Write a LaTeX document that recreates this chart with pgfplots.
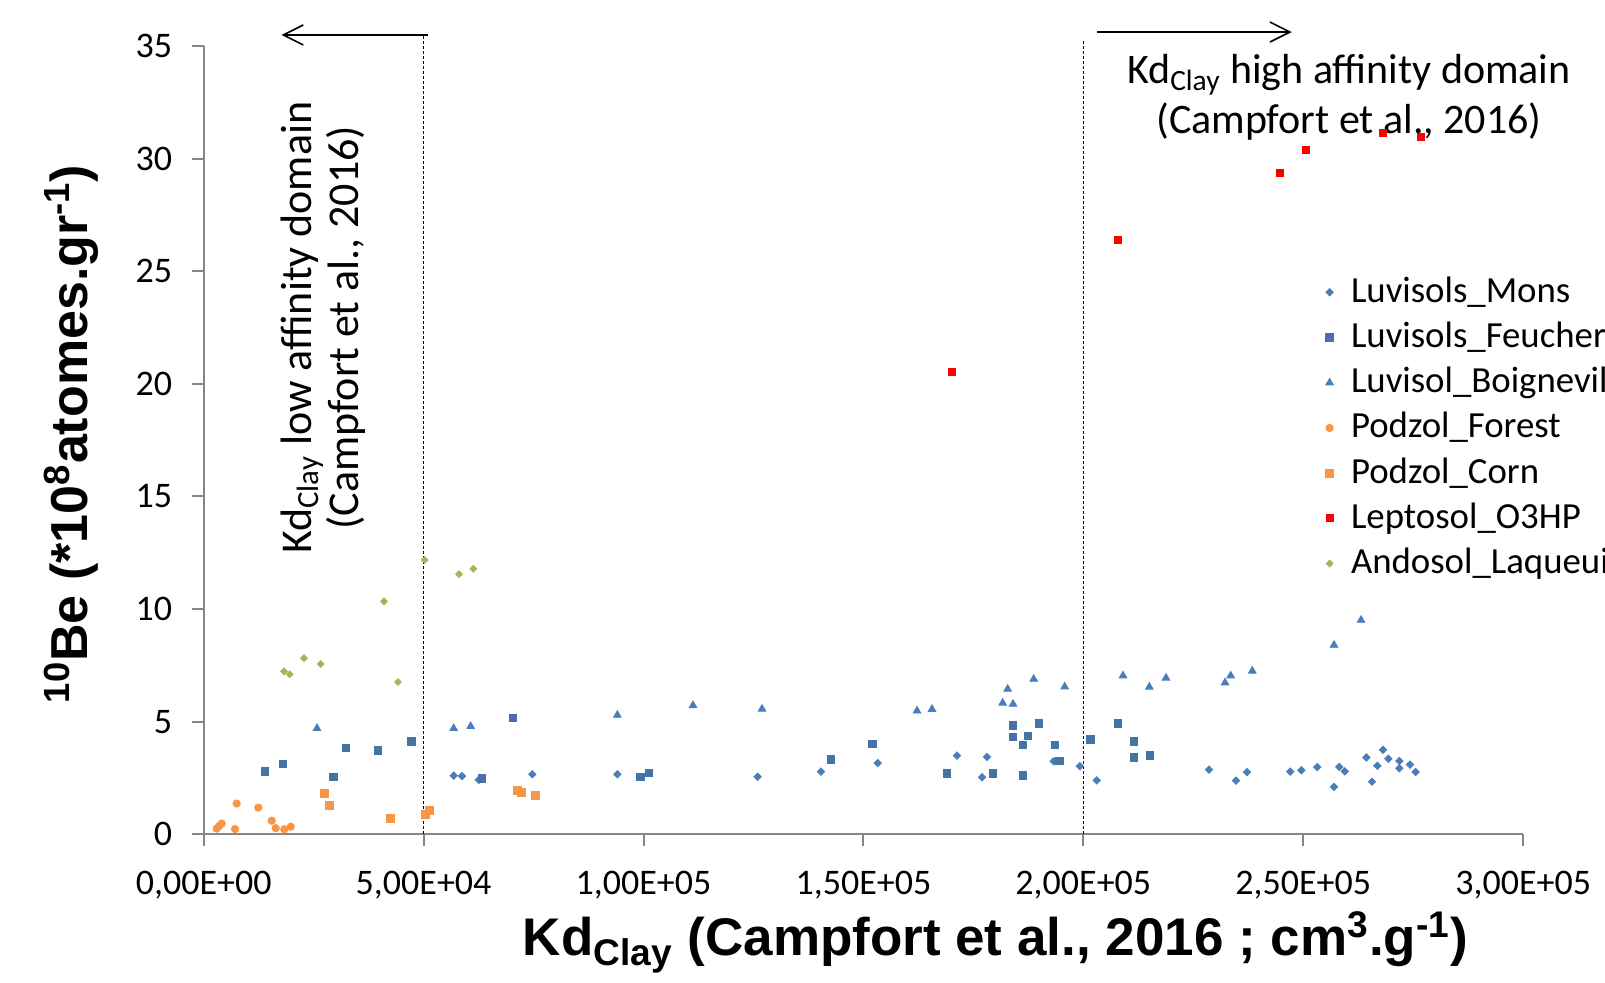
\documentclass[border=0pt]{standalone}
\usepackage{fontspec}
\setmainfont{Carlito}
\newfontfamily\arialfont{Liberation Sans}
\usepackage{pgfplots}
\pgfplotsset{compat=1.18}
\usetikzlibrary{arrows.meta}
\definecolor{monsc}{RGB}{74,126,187}
\definecolor{feuc}{RGB}{69,114,167}
\definecolor{boic}{RGB}{74,126,187}
\definecolor{podc}{RGB}{247,150,70}
\definecolor{lepc}{RGB}{255,0,0}
\definecolor{andc}{RGB}{155,187,89}
\definecolor{axisgray}{RGB}{134,134,134}
\pgfplotsset{
  mk/.style={only marks,
    legend image code/.code={\draw[mark repeat=2,mark phase=2,##1] plot coordinates {(0pt,0pt)(5pt,0pt)(10pt,0pt)};}},
}
\begin{document}
\begin{tikzpicture}
\begin{axis}[
  scale only axis, width=659.7pt, height=394pt,
  xmin=0, xmax=300000, ymin=0, ymax=35,
  axis x line=bottom, axis y line=left,
  axis line style={draw=axisgray, line width=1pt, -},
  xtick={0,50000,100000,150000,200000,250000,300000},
  ytick={0,5,10,15,20,25,30,35},
  scaled x ticks=false,
  xticklabels={{0,00E+00},{5,00E+04},{1,00E+05},{1,50E+05},{2,00E+05},{2,50E+05},{3,00E+05}},
  yticklabels={0,5,10,15,20,25,30,35},
  tick style={draw=axisgray, line width=1pt},
  tick align=outside, major tick length=6pt,
  ticklabel style={font=\fontsize{18}{21}\selectfont, text=black},
  xticklabel style={yshift=-9pt},
  yticklabel style={xshift=-6.2pt},
  xlabel={Kd\textsubscript{Clay} (Campfort et al., 2016 ; cm\textsuperscript{3}.g\textsuperscript{-1})},
  ylabel={\textsuperscript{10}Be (*10\textsuperscript{8}atomes.gr\textsuperscript{-1})},
  xlabel style={font=\arialfont\bfseries\fontsize{26.5}{30}\selectfont, at={(axis description cs:0.6,0)}, anchor=center, yshift=-54pt},
  ylabel style={font=\arialfont\bfseries\fontsize{26}{30}\selectfont, at={(axis description cs:-0.1,0.508)}, anchor=center},
  clip=false,
  legend cell align=left,
  legend style={at={(0.850,0.711)}, anchor=north west, draw=none, fill=none,
    font=\fontsize{18.4}{21}\selectfont, inner sep=0pt, row sep=4.6pt,
    nodes={inner sep=0pt, text height=14pt, text depth=4pt},
    /tikz/every odd column/.append style={column sep=8.7pt}},
]
\addplot[mk, mark=square*, mark size=1.3pt, mark options={rotate=45, draw=monsc, fill=monsc}] coordinates {
(56840,2.60) (58730,2.58) (62530,2.41) (74720,2.66) (94050,2.66) (125960,2.55)
(140360,2.78) (153250,3.16) (171280,3.49) (176970,2.53) (178100,3.43) (193270,3.24)
(199200,3.02) (203050,2.39) (228580,2.87) (234720,2.38) (237220,2.76) (247070,2.78)
(249570,2.84) (253210,2.98) (257000,2.10) (258210,2.99) (259430,2.79) (264350,3.41)
(265640,2.33) (266850,3.04) (268140,3.75) (269350,3.35) (271850,3.25) (271850,2.93)
(274280,3.09) (275570,2.76)};
\addlegendentry{Luvisols\_Mons}
\addplot[mk, mark=square*, mark size=1.9pt, mark options={draw=feuc, fill=feuc}] coordinates {
(13940,2.78) (18030,3.13) (29550,2.55) (32290,3.84) (39630,3.71) (47290,4.11)
(63280,2.47) (70260,5.17) (99360,2.55) (101250,2.73) (142570,3.31) (152110,4.02)
(168940,2.69) (179400,2.69) (183950,4.82) (183950,4.33) (187360,4.37) (186220,3.97)
(189860,4.91) (186220,2.60) (193500,3.97) (194630,3.26) (201680,4.20) (207820,4.91)
(211460,4.11) (211460,3.40) (215100,3.49)};
\addlegendentry{Luvisols\_Feucherolles}
\addplot[mk, mark=triangle*, mark size=2.2pt, mark options={draw=boic, fill=boic}] coordinates {
(25760,4.70) (56840,4.70) (60700,4.79) (94050,5.29) (111260,5.72) (126950,5.56)
(162190,5.48) (165600,5.55) (181670,5.83) (182800,6.45) (184020,5.78) (188720,6.89)
(195770,6.55) (209030,7.04) (215010,6.54) (218800,6.94) (232220,6.73) (233510,7.04)
(238420,7.25) (257000,8.40) (263150,9.51)};
\addlegendentry{Luvisol\_Boigneville}
\addplot[mk, mark=*, mark size=1.85pt, mark options={draw=podc, fill=podc}] coordinates {
(2950,0.25) (3480,0.36) (4090,0.47) (7500,1.36) (7120,0.23) (12420,1.18)
(15460,0.60) (16370,0.27) (18330,0.22) (19780,0.33)};
\addlegendentry{Podzol\_Forest}
\addplot[mk, mark=square*, mark size=2pt, mark options={draw=podc, fill=podc}] coordinates {
(27510,1.80) (28650,1.27) (42520,0.69) (50320,0.87) (51300,1.04) (71400,1.93)
(72300,1.84) (75490,1.71)};
\addlegendentry{Podzol\_Corn}
\addplot[mk, mark=square*, mark size=1.75pt, mark options={draw=lepc, fill=lepc}] coordinates {
(170120,20.55) (207820,26.41) (244590,29.36) (250640,30.41) (268100,31.14) (276710,30.95)};
\addlegendentry{Leptosol\_O3HP}
\addplot[mk, mark=square*, mark size=1.2pt, mark options={rotate=45, draw=andc, fill=andc}] coordinates {
(50250,12.18) (58050,11.55) (61300,11.79) (41000,10.34) (18260,7.23) (19550,7.10)
(22800,7.82) (26600,7.56) (44180,6.76)};
\addlegendentry{Andosol\_Laqueuille}
% domain limits
\addplot[forget plot, black, line width=0.7pt, dash pattern=on 1.5pt off 1pt] coordinates {(50000,0) (50000,35.53)};
\addplot[forget plot, black, line width=0.7pt, dash pattern=on 1.5pt off 1pt] coordinates {(200000,0) (200000,35.22)};
\draw[-{Straight Barb[length=10pt,width=10pt]}, line width=0.8pt] (axis cs:51000,35.5) -- (axis cs:17700,35.5);
\draw[-{Straight Barb[length=10pt,width=10pt]}, line width=0.8pt] (axis cs:203200,35.63) -- (axis cs:247400,35.63);
\node[font=\fontsize{21}{25}\selectfont, align=center] at (axis cs:260400,32.71)
  {Kd\textsubscript{Clay} high affinity domain\\(Campfort et al., 2016)};
\node[font=\fontsize{22}{23.5}\selectfont, align=center, rotate=90] at (axis cs:27250,22.5)
  {Kd\textsubscript{Clay} low affinity domain\\(Campfort et al., 2016)};
\coordinate (O) at (rel axis cs:0,0);
\end{axis}
\pgfresetboundingbox
\path[use as bounding box] ([xshift=-101.85pt,yshift=-73.9pt]O) rectangle ++(802.5pt,491pt);
\end{tikzpicture}
\end{document}
